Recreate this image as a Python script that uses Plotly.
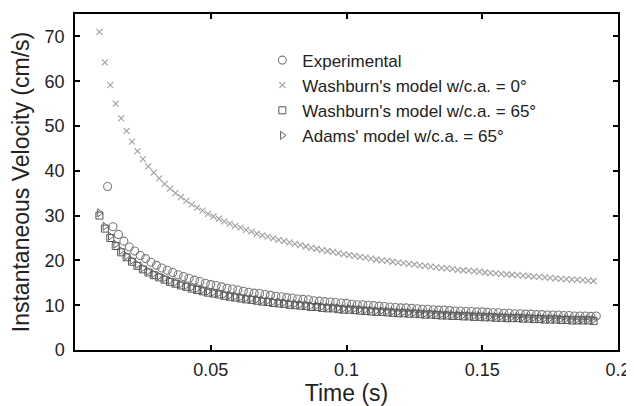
import plotly.graph_objects as go

# time stamps (s) of the model curves and of the experiment
t_model = [0.009, 0.011, 0.013, 0.015, 0.017, 0.019, 0.021, 0.023, 0.025, 0.027,
           0.029, 0.031, 0.033, 0.035, 0.037, 0.039, 0.041, 0.043, 0.045, 0.047,
           0.049, 0.051, 0.053, 0.055, 0.057, 0.059, 0.061, 0.063, 0.065, 0.067,
           0.069, 0.071, 0.073, 0.075, 0.077, 0.079, 0.081, 0.083, 0.085, 0.087,
           0.089, 0.091, 0.093, 0.095, 0.097, 0.099, 0.101, 0.103, 0.105, 0.107,
           0.109, 0.111, 0.113, 0.115, 0.117, 0.119, 0.121, 0.123, 0.125, 0.127,
           0.129, 0.131, 0.133, 0.135, 0.137, 0.139, 0.141, 0.143, 0.145, 0.147,
           0.149, 0.151, 0.153, 0.155, 0.157, 0.159, 0.161, 0.163, 0.165, 0.167,
           0.169, 0.171, 0.173, 0.175, 0.177, 0.179, 0.181, 0.183, 0.185, 0.187,
           0.189, 0.191]

t_exp = [0.012, 0.014, 0.016, 0.018, 0.020, 0.022, 0.024, 0.026, 0.028, 0.030,
         0.032, 0.034, 0.036, 0.038, 0.040, 0.042, 0.044, 0.046, 0.048, 0.050,
         0.052, 0.054, 0.056, 0.058, 0.060, 0.062, 0.064, 0.066, 0.068, 0.070,
         0.072, 0.074, 0.076, 0.078, 0.080, 0.082, 0.084, 0.086, 0.088, 0.090,
         0.092, 0.094, 0.096, 0.098, 0.100, 0.102, 0.104, 0.106, 0.108, 0.110,
         0.112, 0.114, 0.116, 0.118, 0.120, 0.122, 0.124, 0.126, 0.128, 0.130,
         0.132, 0.134, 0.136, 0.138, 0.140, 0.142, 0.144, 0.146, 0.148, 0.150,
         0.152, 0.154, 0.156, 0.158, 0.160, 0.162, 0.164, 0.166, 0.168, 0.170,
         0.172, 0.174, 0.176, 0.178, 0.180, 0.182, 0.184, 0.186, 0.188, 0.190,
         0.192]

# instantaneous velocity (cm/s)
v_exp = [36.5, 27.5, 25.8, 24.3, 23.0, 22.1, 21.1, 20.4, 19.6, 18.9,
         18.3, 17.8, 17.3, 16.8, 16.4, 16.0, 15.6, 15.3, 14.9, 14.6,
         14.4, 14.1, 13.8, 13.6, 13.4, 13.1, 12.9, 12.7, 12.6, 12.4,
         12.2, 12.0, 11.9, 11.7, 11.6, 11.4, 11.3, 11.2, 11.0, 10.9,
         10.8, 10.7, 10.6, 10.5, 10.4, 10.2, 10.1, 10.1, 10.0, 9.9,
         9.8, 9.7, 9.6, 9.5, 9.4, 9.4, 9.3, 9.2, 9.1, 9.1,
         9.0, 8.9, 8.9, 8.8, 8.7, 8.7, 8.6, 8.6, 8.5, 8.5,
         8.4, 8.3, 8.3, 8.2, 8.2, 8.1, 8.1, 8.0, 8.0, 7.9,
         7.9, 7.8, 7.8, 7.8, 7.7, 7.7, 7.6, 7.6, 7.6, 7.5,
         7.6]

v_wash0 = [71.0, 64.2, 59.1, 55.0, 51.7, 48.9, 46.5, 44.4, 42.6, 41.0,
           39.6, 38.3, 37.1, 36.0, 35.0, 34.1, 33.3, 32.5, 31.8, 31.1,
           30.4, 29.8, 29.3, 28.7, 28.2, 27.7, 27.3, 26.8, 26.4, 26.0,
           25.6, 25.3, 24.9, 24.6, 24.3, 24.0, 23.7, 23.4, 23.1, 22.8,
           22.6, 22.3, 22.1, 21.9, 21.6, 21.4, 21.2, 21.0, 20.8, 20.6,
           20.4, 20.2, 20.0, 19.9, 19.7, 19.5, 19.4, 19.2, 19.1, 18.9,
           18.8, 18.6, 18.5, 18.3, 18.2, 18.1, 17.9, 17.8, 17.7, 17.6,
           17.5, 17.3, 17.2, 17.1, 17.0, 16.9, 16.8, 16.7, 16.6, 16.5,
           16.4, 16.3, 16.2, 16.1, 16.0, 15.9, 15.8, 15.7, 15.7, 15.6,
           15.5, 15.4]

v_wash65 = [30.0, 27.1, 25.0, 23.2, 21.8, 20.7, 19.7, 18.8, 18.0, 17.3,
            16.7, 16.2, 15.7, 15.2, 14.8, 14.4, 14.1, 13.7, 13.4, 13.1,
            12.8, 12.6, 12.4, 12.1, 11.9, 11.7, 11.5, 11.3, 11.2, 11.0,
            10.8, 10.7, 10.5, 10.4, 10.3, 10.1, 10.0, 9.9, 9.8, 9.6,
            9.6, 9.4, 9.3, 9.3, 9.1, 9.0, 9.0, 8.9, 8.8, 8.7,
            8.6, 8.5, 8.5, 8.4, 8.3, 8.2, 8.2, 8.1, 8.1, 8.0,
            7.9, 7.9, 7.8, 7.7, 7.7, 7.6, 7.6, 7.5, 7.5, 7.4,
            7.4, 7.3, 7.3, 7.2, 7.2, 7.1, 7.1, 7.1, 7.0, 7.0,
            6.9, 6.9, 6.8, 6.8, 6.8, 6.7, 6.7, 6.6, 6.6, 6.6,
            6.6, 6.5]

v_adams65 = [30.6, 27.6, 25.4, 23.6, 22.2, 21.0, 20.0, 19.1, 18.3, 17.6,
             17.0, 16.5, 16.0, 15.5, 15.1, 14.7, 14.4, 14.0, 13.7, 13.4,
             13.1, 12.9, 12.7, 12.4, 12.2, 12.0, 11.8, 11.6, 11.5, 11.3,
             11.1, 11.0, 10.8, 10.7, 10.6, 10.4, 10.3, 10.2, 10.1, 9.9,
             9.9, 9.7, 9.6, 9.6, 9.4, 9.3, 9.3, 9.2, 9.1, 9.0,
             8.9, 8.8, 8.8, 8.7, 8.6, 8.5, 8.5, 8.4, 8.4, 8.3,
             8.2, 8.2, 8.1, 8.0, 8.0, 7.9, 7.9, 7.8, 7.8, 7.7,
             7.7, 7.6, 7.6, 7.5, 7.5, 7.4, 7.4, 7.4, 7.3, 7.3,
             7.2, 7.2, 7.1, 7.1, 7.1, 7.0, 7.0, 6.9, 6.9, 6.9,
             6.9, 6.8]

x_ticks = [0.05, 0.1, 0.15, 0.2]
x_ticktext = ['0.05', '0.1', '0.15', '0.2']
y_ticks = [0, 10, 20, 30, 40, 50, 60, 70]

names = ['Experimental', "Washburn's model w/c.a. = 0°",
         "Washburn's model w/c.a. = 65°", "Adams' model w/c.a. = 65°"]

fig = go.Figure()
fig.add_trace(go.Scatter(x=t_exp, y=v_exp, mode='markers', name=names[0], legendgroup='a',
                         marker=dict(symbol='circle-open', size=8, color='#7a7a7a',
                                     line=dict(width=1.1))))
fig.add_trace(go.Scatter(x=t_model, y=v_wash0, mode='markers', name=names[1], legendgroup='b',
                         marker=dict(symbol='x-thin-open', size=6, color='#a0a0a0',
                                     line=dict(width=1.1))))
fig.add_trace(go.Scatter(x=t_model, y=v_wash65, mode='markers', name=names[2], legendgroup='c',
                         marker=dict(symbol='square-open', size=7, color='#555555',
                                     line=dict(width=1))))
fig.add_trace(go.Scatter(x=t_model, y=v_adams65, mode='markers', name=names[3], legendgroup='d',
                         marker=dict(symbol='triangle-right-open', size=7, color='#606060',
                                     line=dict(width=1))))

axis_style = dict(showline=True, linecolor='black', linewidth=1.5, mirror='allticks',
                  ticks='inside', ticklen=5, tickwidth=1.5, tickcolor='black',
                  showgrid=False, zeroline=False, automargin=False,
                  tickfont=dict(size=18, color='#222222'))

fig.update_xaxes(range=[0, 0.2], tickvals=x_ticks, ticktext=x_ticktext, ticklabelstandoff=3,
                 title=dict(text='Time (s)', font=dict(size=23, color='#222222'), standoff=2),
                 **axis_style)
fig.update_yaxes(range=[0, 75], tickvals=y_ticks, ticklabelstandoff=5,
                 title=dict(text='Instantaneous Velocity (cm/s)', font=dict(size=23, color='#222222'),
                            standoff=10),
                 **axis_style)

# the page body has an 8px margin, so the figure is a bit smaller and shifted
fig.update_layout(
    width=626, height=398,
    margin=dict(l=67, r=16, t=6, b=56),
    plot_bgcolor='white', paper_bgcolor='white',
    font=dict(family='Liberation Sans, Arial, sans-serif', color='#222222'),
    showlegend=True,
    legend=dict(x=0.345, y=0.915, xanchor='left', yanchor='top',
                bgcolor='rgba(0,0,0,0)', font=dict(size=17, color='#222222'),
                traceorder='grouped', tracegroupgap=0, itemwidth=30),
)

fig.write_html("out.html")
